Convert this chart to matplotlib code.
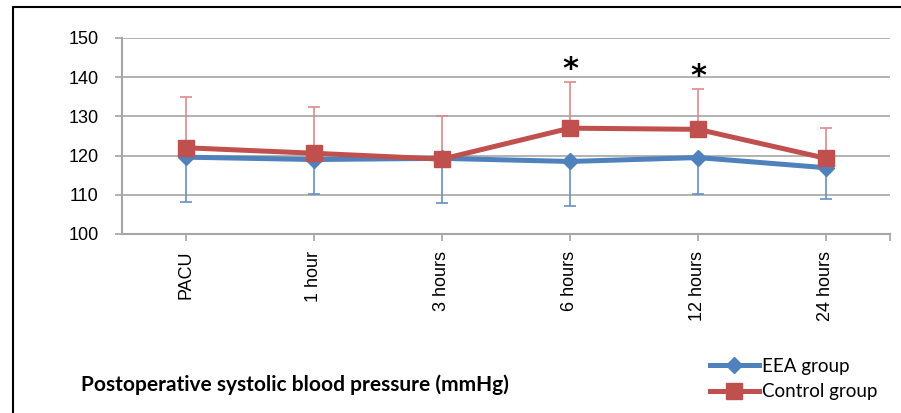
import numpy as np
import matplotlib
matplotlib.use("Agg")
import matplotlib.pyplot as plt
from matplotlib.patches import Rectangle

categories = ["PACU", "1 hour", "3 hours", "6 hours", "12 hours", "24 hours"]
eea_mean = [119.6, 119.0, 119.3, 118.5, 119.5, 116.9]
eea_sd = [11.4, 8.8, 11.5, 11.3, 9.2, 8.0]
ctrl_mean = [122.0, 120.6, 119.1, 127.0, 126.7, 119.3]
ctrl_sd = [13.0, 11.7, 11.0, 11.7, 10.2, 7.8]
star_idx = [3, 4]
star_y = [141.9, 140.1]

blue = "#4F81BD"
red = "#C0504D"

fig = plt.figure(figsize=(9.01, 4.13), dpi=100)
ax = fig.add_axes([122 / 901, 1 - 234 / 413, 768 / 901, 196 / 413])

x = np.arange(len(categories)) + 0.5

ax.errorbar(x, eea_mean, yerr=[eea_sd, [0] * len(x)], fmt="none",
            ecolor="#6790C6", elinewidth=1.2, capsize=4, capthick=1.2, zorder=2)
ax.errorbar(x, ctrl_mean, yerr=[[0] * len(x), ctrl_sd], fmt="none",
            ecolor="#D98C8A", elinewidth=1.2, capsize=4, capthick=1.2, zorder=2)
ax.plot(x, eea_mean, color=blue, lw=3.6, marker="D", ms=8,
        label="EEA group", zorder=3)
ax.plot(x, ctrl_mean, color=red, lw=3.6, marker="s", ms=11,
        label="Control group", zorder=4)

for i, yy in zip(star_idx, star_y):
    ax.text(x[i], yy, "*", ha="center", va="center", fontsize=22,
            fontweight="bold")

ax.set_xlim(0, 6)
ax.set_ylim(100, 150)
ax.set_yticks(range(100, 151, 10))
ax.yaxis.grid(True, color="#A6A6A6", lw=1.2)
ax.set_axisbelow(True)
ax.set_xticks(list(x) + [6])
ax.set_xticklabels(categories + [""], rotation=90, fontsize=13,
                   family="Liberation Sans")
for lab in ax.get_yticklabels():
    lab.set_fontsize(13)
    lab.set_family("Liberation Sans")
ax.tick_params(axis="both", color="#A6A6A6", length=5, width=1.2, pad=7)
ax.tick_params(axis="y", pad=12)
for s in ["top", "right"]:
    ax.spines[s].set_visible(False)
for s in ["left", "bottom"]:
    ax.spines[s].set_color("#A6A6A6")
    ax.spines[s].set_linewidth(1.5)

fig.legend(loc="upper left", bbox_to_anchor=(710 / 901, 1 - 358 / 413),
           frameon=False, prop={"family": "Lato", "size": 13.5},
           handlelength=2.6, handletextpad=0.2, labelspacing=0.45,
           borderaxespad=0, borderpad=0)

fig.text(81 / 901, 1 - 385 / 413, "Postoperative systolic blood pressure (mmHg)",
         fontsize=15, fontweight="bold", family="Lato", va="center")

fig.patches.append(Rectangle((13 / 901, -0.1), 2, 1.1 - 7 / 413,
                             transform=fig.transFigure, fill=False,
                             edgecolor="black", lw=1.5))

fig.savefig("out.png", dpi=100)
